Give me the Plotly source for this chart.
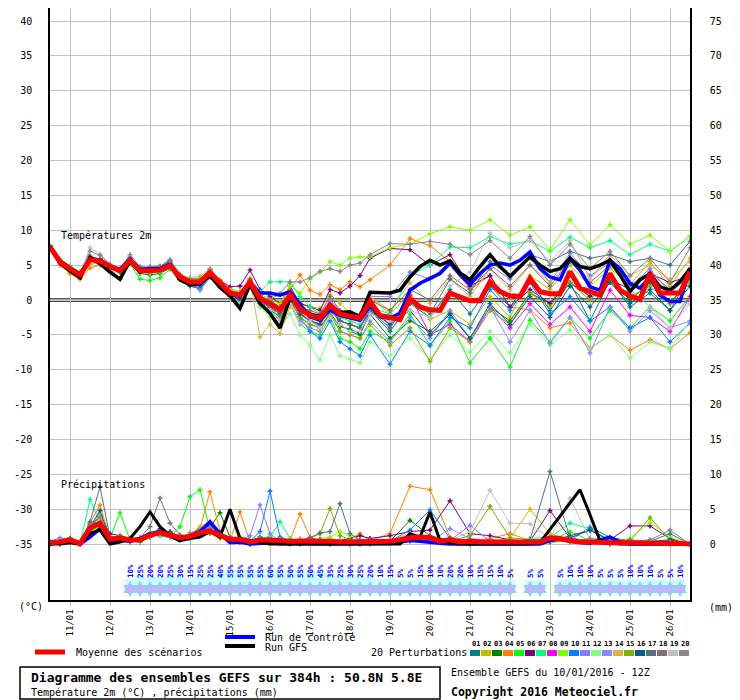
import plotly.graph_objects as go

# time axis (hours after 10/01/2016 12Z)
HOURS = list(range(0, 385, 6))
MEMBER_HOURS = list(range(0, 193, 6)) + list(range(204, 385, 12))

DAY_TICKS = list(range(12, 384, 24))
DAY_LABELS = ["11/01", "12/01", "13/01", "14/01", "15/01", "16/01", "17/01", "18/01",
              "19/01", "20/01", "21/01", "22/01", "23/01", "24/01", "25/01", "26/01"]

TEMP_TICKS = list(range(-35, 41, 5))
PRCP_TICKS = list(range(0, 76, 5))

# ensemble mean, control run, deterministic GFS (6h steps)
MEAN_TEMP = [7.6, 5.5, 4.5, 3.6, 5.8, 5.6, 4.8, 4.2, 5.7, 4.2,
             4.2, 4.3, 4.9, 3.3, 2.6, 2.6, 3.9, 2.4, 1.0, 0.7,
             2.6, 0.2, -0.5, -1.4, 0.7, -1.3, -2.2, -2.6, -0.7, -2.0,
             -2.3, -2.6, -0.2, -2.2, -2.5, -2.8, 0.2, -1.0, -1.4, -1.5,
             1.0, 0.4, -0.1, -0.1, 2.6, 1.2, 0.6, 0.5, 3.1, 1.2,
             0.9, 0.9, 4.1, 1.7, 1.2, 0.7, 3.8, 1.4, 0.6, 0.1,
             3.8, 1.0, 1.0, 1.0, 4.1]
CTRL_TEMP = [7.7, 5.6, 4.6, 3.7, 5.9, 5.7, 4.9, 4.4, 5.9, 4.4,
             4.5, 4.5, 5.1, 3.0, 2.2, 2.3, 3.6, 2.0, 0.9, 0.5,
             2.6, 1.0, 1.0, 0.7, 1.2, -0.7, -2.4, -2.9, -1.4, -2.2,
             -2.6, -2.9, -0.8, -2.4, -2.6, -1.9, 1.4, 2.4, 3.1, 3.8,
             5.3, 3.6, 2.2, 3.8, 5.0, 5.3, 5.0, 5.7, 6.9, 4.5,
             3.3, 2.9, 6.0, 4.3, 1.9, 1.4, 5.7, 4.5, 2.4, 1.7,
             3.3, 0.7, -0.2, -0.2, 4.5]
GFS_TEMP = [7.6, 5.3, 4.2, 3.2, 6.1, 5.2, 4.0, 3.0, 5.6, 4.0,
            4.3, 4.4, 5.0, 2.9, 2.2, 2.4, 3.5, 1.8, 0.6, -1.2,
            2.2, -0.5, -1.9, -4.0, 0.3, -1.2, -2.0, -2.4, -0.9, -1.8,
            -1.7, -2.4, 1.1, 1.0, 1.0, 1.4, 3.3, 4.8, 5.7, 5.0,
            5.6, 3.9, 2.9, 4.8, 6.5, 4.8, 3.4, 4.8, 6.2, 5.0,
            4.1, 4.5, 6.0, 4.8, 4.5, 5.0, 5.7, 3.6, 1.2, 2.9,
            3.8, 1.9, 1.4, 2.6, 4.5]

MEAN_PRCP = [0.2, 0.3, 0.6, 0.1, 2.3, 3.0, 0.7, 0.9, 0.6, 0.6,
             1.3, 1.6, 1.3, 0.9, 1.1, 1.6, 1.9, 1.3, 0.7, 0.7,
             0.3, 0.6, 0.6, 0.5, 0.4, 0.4, 0.5, 0.4, 0.4, 0.3,
             0.3, 0.3, 0.3, 0.3, 0.4, 0.6, 0.9, 1.0, 0.9, 0.4,
             0.6, 0.3, 0.4, 0.3, 0.3, 0.2, 0.2, 0.2, 0.3, 0.3,
             0.9, 0.8, 0.5, 0.3, 0.3, 0.2, 0.2, 0.2, 0.2, 0.2,
             0.2, 0.2, 0.2, 0.1, 0.0]
CTRL_PRCP = [0.0, 0.2, 0.4, 0.0, 1.0, 2.2, 0.3, 0.5, 0.4, 0.8,
             1.5, 1.8, 1.2, 0.5, 1.2, 1.8, 3.2, 1.5, 0.2, 0.3,
             0.0, 0.1, 0.2, 0.1, 0.0, 0.1, 0.0, 0.0, 0.0, 0.0,
             0.0, 0.1, 0.0, 0.0, 0.1, 0.3, 0.5, 0.4, 0.2, 0.1,
             0.0, 0.0, 0.0, 0.0, 0.0, 0.0, 0.0, 0.0, 0.0, 0.0,
             0.5, 0.8, 0.4, 0.2, 0.1, 0.6, 1.0, 0.3, 0.0, 0.0,
             0.0, 0.0, 0.0, 0.0, 0.0]
GFS_PRCP = [0.0, 0.0, 0.2, 0.0, 1.5, 2.0, 0.0, 0.3, 0.8, 2.5,
            4.6, 2.5, 1.2, 0.5, 0.8, 1.0, 1.8, 1.0, 5.0, 0.8,
            0.5, 0.3, 0.0, 0.0, 0.0, 0.0, 0.0, 0.0, 0.0, 0.0,
            0.0, 0.0, 0.0, 0.0, 0.0, 0.0, 1.5, 1.0, 4.6, 0.5,
            0.2, 0.0, 0.0, 0.0, 0.0, 0.0, 0.0, 0.0, 0.0, 0.2,
            2.1, 4.0, 5.9, 7.8, 4.2, 0.5, 0.2, 0.0, 0.0, 0.0,
            0.0, 0.0, 0.0, 0.0, 0.0]

# 20 perturbations (6h steps to 192h, 12h after)
TEMP_01 = [7.5, 5.4, 4.3, 3.2, 5.9, 5.5, 4.6, 4.0, 5.8, 4.1, 4.4, 4.5, 5.0, 3.0, 2.3, 2.2, 3.6, 2.0, 0.5, -0.3, 2.0,
           -0.5, -1.5, -2.4, 0.3, -1.8, -3.0, -3.4, -0.6, -3.5, -4.5, -5.0, -1.5,
           -4.5, -0.5, -2.5, 1.5, -2.0, 2.0, -1.0, 3.0, -1.5, 2.5, -3.0, 2.8, -1.0, 1.0, -1.5, 3.5]
TEMP_02 = [7.6, 5.0, 4.0, 3.5, 5.2, 5.7, 5.0, 4.4, 5.5, 4.5, 4.0, 4.1, 4.8, 3.5, 2.9, 2.9, 4.2, 2.7, 1.6, 1.2, 3.0,
           0.8, 0.2, -0.5, 1.5, -0.4, -1.0, -1.2, 0.8, -0.5, -1.8, -2.0, 0.5,
           -2.0, 1.0, -2.8, -1.5, -3.5, 0.5, -2.5, 3.5, 1.5, 5.0, 2.0, 4.5, 2.2, 5.5, 2.0, 6.0]
TEMP_03 = [7.7, 5.6, 4.6, 3.3, 5.8, 5.4, 4.5, 3.1, 5.2, 3.8, 3.6, 3.8, 4.6, 3.0, 2.0, 1.6, 3.4, 2.2, 1.0, 0.9, 2.8,
           -0.3, -1.0, -2.0, 0.0, -2.5, -3.5, -4.0, -1.8, -3.8, -4.2, -4.8, -2.0,
           -5.5, -3.0, -4.5, -2.0, -5.5, -1.0, -3.0, 1.0, -0.5, 3.5, 0.5, 3.0, 0.0, 2.5, -0.5, 3.0]
TEMP_04 = [7.6, 5.0, 3.8, 3.0, 4.6, 5.0, 4.9, 4.4, 5.9, 4.4, 4.6, 4.7, 5.3, 3.6, 3.0, 3.1, 4.3, 2.9, 1.2, 1.0, 3.1,
           -1.0, -0.5, -1.2, 1.5, 3.6, 1.4, 0.8, 2.2, 1.5, 2.6, 1.9, 2.9,
           5.0, 8.8, 7.8, 5.5, 1.5, 3.5, -1.0, -1.4, -4.0, -3.3, -6.9, -5.0, -7.2, -5.7, -7.0, -4.7]
TEMP_05 = [7.8, 5.8, 4.9, 4.0, 5.9, 5.3, 4.3, 3.0, 5.2, 3.0, 2.8, 3.2, 4.4, 3.4, 3.1, 3.0, 3.7, 2.6, 0.8, 0.2, 2.3,
           -0.5, -1.5, -3.0, -0.5, -3.5, -4.5, -5.0, -2.5, -5.5, -6.0, -7.0, -4.5,
           -6.0, -2.0, -6.5, -3.0, -9.0, -5.5, -9.6, -2.9, -6.0, -2.5, -5.5, -1.5, -4.0, -1.0, -3.0, 0.5]
TEMP_06 = [7.5, 5.5, 4.5, 3.5, 6.1, 5.8, 5.0, 4.3, 5.9, 4.2, 4.0, 4.2, 5.2, 3.4, 2.8, 2.7, 4.3, 2.8, 1.9, 2.0, 4.3,
           1.5, 0.5, -0.5, 2.0, -0.5, -1.0, -1.5, 1.5, 1.0, 2.0, 3.5, 6.0,
           7.4, 7.2, 5.0, 6.5, 2.0, 3.5, -1.0, 1.5, -0.5, 2.5, 0.5, 3.0, 1.5, 3.8, 2.5, 3.5]
TEMP_07 = [7.8, 5.7, 4.8, 4.0, 6.0, 5.9, 5.1, 4.6, 6.0, 4.4, 4.1, 4.3, 4.9, 3.1, 2.4, 2.4, 3.7, 2.3, 1.3, 1.0, 2.4,
           1.2, 2.6, 2.6, 2.6, 0.5, -1.0, -2.0, -0.5, -2.5, -3.0, -3.5, -1.0,
           -2.0, 3.5, 5.0, 7.6, 7.5, 9.1, 8.0, 8.5, 7.0, 9.0, 7.5, 8.5, 6.5, 8.0, 7.0, 9.1]
TEMP_08 = [7.6, 5.5, 4.6, 3.7, 5.6, 5.4, 4.6, 4.1, 5.5, 4.0, 4.1, 4.4, 5.0, 3.2, 2.5, 2.5, 3.8, 2.0, 0.6, 0.4, 2.5,
           0.0, -1.0, -2.0, 0.0, -2.0, -3.0, -3.5, -1.5, -3.0, -3.5, -4.0, -1.0,
           -3.5, 0.7, -5.0, -3.5, -6.0, -1.0, -4.0, -0.5, -3.5, -1.0, -4.5, 1.4, -2.2, -2.5, -4.5, 0.5]
TEMP_09 = [7.9, 5.9, 4.7, 3.9, 6.0, 5.7, 4.9, 4.3, 5.6, 4.3, 4.4, 4.6, 5.0, 3.3, 2.8, 2.9, 4.1, 2.5, 1.4, 1.2, 2.9,
           0.5, 0.0, -0.5, 2.0, 1.0, 3.0, 4.0, 5.5, 5.0, 6.0, 6.2, 6.2,
           7.5, 8.0, 9.5, 10.5, 10.0, 11.5, 9.3, 10.5, 7.2, 11.5, 7.9, 10.8, 8.0, 9.3, 7.0, 9.1]
TEMP_10 = [7.5, 5.4, 4.4, 3.5, 5.7, 5.5, 4.7, 4.2, 5.8, 4.3, 4.5, 4.6, 5.4, 3.0, 2.1, 1.8, 3.5, 2.1, 0.9, 0.6, 2.3,
           0.0, -1.0, -2.0, 0.0, -2.5, -4.5, -5.5, -3.0, -6.0, -7.0, -8.0, -5.0,
           -9.2, -4.5, -6.5, -2.5, -4.0, 1.5, -1.5, 2.5, -2.0, 0.5, -3.0, -1.0, -4.0, -2.5, -6.0, -3.3]
TEMP_11 = [7.6, 5.5, 4.5, 3.8, 5.8, 5.6, 4.8, 4.5, 5.8, 4.6, 4.7, 4.9, 5.5, 3.4, 2.4, 1.4, 3.2, 2.6, 1.2, 0.8, 2.7,
           0.5, -0.5, -1.5, 1.0, -1.0, -2.0, -2.5, 0.0, -1.5, -2.0, -2.0, 0.5,
           0.5, 4.0, 3.0, 5.5, 2.5, 5.0, 3.0, 6.0, 2.5, 6.7, 3.5, 5.3, 2.0, 4.5, 1.0, 3.5]
TEMP_12 = [7.7, 5.6, 4.6, 3.7, 5.9, 5.5, 4.6, 3.9, 5.5, 3.9, 3.8, 4.0, 4.7, 3.5, 2.7, 2.8, 4.0, 2.4, 1.1, 0.5, 2.2,
           -1.0, -2.5, -4.0, -2.0, -5.0, -6.5, -8.6, -5.0, -8.0, -8.5, -9.0, -6.0,
           -8.0, -5.5, -8.5, -5.0, -7.5, -4.5, -7.6, -3.5, -6.5, -4.3, -7.0, -5.0, -8.3, -6.0, -7.0, -3.0]
TEMP_13 = [7.6, 5.5, 4.4, 3.6, 5.7, 5.7, 4.9, 4.3, 5.7, 4.2, 4.3, 4.4, 5.0, 3.2, 2.6, 2.5, 3.9, 2.3, 0.8, 0.6, 2.6,
           -0.5, -1.5, -3.0, -0.5, -3.0, -4.0, -4.5, -2.0, -4.5, -5.0, -5.5, -3.0,
           -6.0, -2.5, -5.5, -1.5, -5.5, -1.0, -6.0, -1.5, -6.2, -2.5, -7.6, -1.0, -4.5, -1.5, -4.0, -3.0]
TEMP_14 = [7.5, 5.2, 4.2, 3.4, 5.0, 5.6, 4.9, 4.4, 5.6, 4.3, 4.2, 4.3, 4.8, 3.6, 3.2, 3.4, 4.5, 2.9, 1.3, 1.1, 2.9,
           -5.3, -3.5, -4.8, -1.0, -2.0, -3.0, -3.8, -1.0, -3.0, -3.5, -2.5, 0.5,
           -1.5, 2.5, -0.5, 3.0, 0.5, 4.5, 1.5, 5.0, 2.5, 5.5, 3.0, 6.5, 3.5, 5.0, 3.0, 5.5]
TEMP_15 = [7.6, 5.6, 4.6, 3.6, 5.8, 5.4, 4.7, 4.0, 5.4, 4.0, 3.9, 4.1, 4.7, 3.1, 2.5, 2.6, 3.9, 2.2, 0.9, 0.7, 2.7,
           0.0, -1.0, -2.5, 0.0, -2.5, -3.5, -4.0, -2.0, -4.5, -5.0, -5.5, -3.5,
           -6.5, -4.0, -8.8, -4.0, -6.0, -1.5, -3.5, 1.0, -1.0, 2.5, 0.0, 3.0, 0.5, 2.0, -0.5, 2.5]
TEMP_16 = [7.7, 5.4, 4.4, 3.4, 6.2, 5.9, 5.0, 4.4, 6.0, 4.4, 4.6, 4.8, 5.6, 3.2, 2.3, 2.1, 3.6, 2.1, 0.7, 0.1, 2.5,
           0.5, -0.5, -1.5, 0.5, -2.0, -3.0, -3.5, -1.0, -3.0, -3.5, -4.0, -1.5,
           -3.5, -1.5, -5.0, -2.0, -5.5, -0.5, -3.5, 0.5, -2.5, 2.0, -1.0, 2.5, -0.5, 1.5, -1.5, 2.0]
TEMP_17 = [7.6, 5.6, 4.6, 3.7, 6.3, 5.8, 4.9, 4.2, 6.1, 4.5, 4.7, 4.8, 5.7, 3.6, 2.8, 2.7, 4.2, 2.6, 1.0, 0.8, 2.8,
           0.0, -1.0, -2.0, 0.5, -1.5, -2.5, -3.0, -1.0, -3.0, -3.5, -4.0, -1.5,
           -4.0, 0.0, -2.0, 3.0, 1.0, 5.5, 3.5, 6.5, 5.5, 7.0, 6.0, 6.5, 5.5, 6.0, 5.0, 8.4]
TEMP_18 = [7.5, 5.3, 4.3, 3.5, 5.9, 5.6, 4.7, 4.0, 5.8, 4.1, 4.2, 4.3, 5.0, 3.3, 2.6, 2.7, 4.0, 2.4, 1.1, 0.9, 2.6,
           0.5, 0.0, -1.0, 1.0, -1.0, -1.5, -2.0, 0.5, -1.5, -2.0, -2.5, 0.0,
           -1.5, 1.5, 0.0, 3.5, 1.5, 4.5, 2.0, 5.0, 2.0, 5.5, 2.5, 5.0, 2.0, 4.0, 1.5, 4.5]
TEMP_19 = [7.8, 5.8, 4.8, 3.8, 7.5, 6.6, 5.2, 4.6, 6.2, 4.5, 4.4, 4.5, 5.1, 3.5, 2.9, 2.7, 4.3, 2.5, 0.6, -0.5, 2.0,
           -0.5, -1.5, -3.0, -0.5, -3.5, -3.0, -4.0, -2.5, -3.5, -4.5, -4.5, -2.0,
           -3.0, -1.5, -2.5, 2.0, 4.0, 9.6, 7.5, 8.5, 5.5, 8.5, 3.0, 6.0, 1.5, -1.0, -4.0, -0.5]
TEMP_20 = [7.7, 5.5, 4.5, 3.6, 7.0, 6.4, 5.1, 4.4, 6.5, 4.8, 4.7, 4.8, 5.8, 3.7, 3.0, 3.0, 4.4, 2.7, 1.3, 1.0, 2.9,
           0.5, 0.0, 1.0, 2.6, 2.6, 3.2, 4.1, 4.5, 4.1, 5.0, 5.3, 6.5,
           8.1, 8.0, 8.4, 8.0, 6.5, 8.5, 6.0, 9.1, 5.0, 8.0, 4.5, 7.0, 3.5, 6.0, 2.5, 7.5]

PRCP_01 = [0.3, 0.5, 0.4, 0.0, 2.0, 3.5, 0.5, 0.6, 0.3, 0.8, 1.5, 1.2, 1.0, 0.6, 1.3, 1.8, 2.2, 1.0, 0.4, 0.2,
           0.0, 0.3, 0.5, 0.2, 0.0, 0.4, 0.6, 0.3, 0.0, 0.2, 0.0, 0.1, 0.0,
           0.3, 0.8, 0.5, 0.2, 0.0, 0.3, 0.1, 0.5, 0.9, 0.4, 0.2, 0.0, 0.3, 0.1, 0.0, 0.0]
PRCP_02 = [0.0, 0.2, 0.8, 0.0, 1.5, 2.5, 1.0, 0.5, 0.8, 0.4, 1.0, 2.0, 1.6, 0.8, 0.9, 1.2, 1.5, 0.8, 0.6, 1.0,
           0.2, 0.5, 0.0, 0.3, 0.6, 0.2, 0.0, 0.5, 0.8, 0.3, 0.0, 0.2, 0.0,
           0.2, 0.5, 0.4, 0.3, 0.6, 0.4, 0.8, 5.0, 1.5, 0.6, 0.3, 0.2, 0.5, 0.4, 0.2, 0.0]
PRCP_03 = [0.2, 0.0, 0.5, 0.2, 2.8, 3.2, 0.4, 1.2, 0.5, 0.3, 1.1, 1.8, 1.4, 1.2, 0.8, 2.0, 2.4, 4.5, 1.0, 0.6,
           0.0, 0.2, 0.9, 0.4, 0.2, 0.0, 0.3, 0.6, 0.2, 0.5, 0.3, 0.0, 0.2,
           0.4, 3.4, 1.2, 0.5, 0.3, 0.6, 0.4, 0.2, 0.8, 0.5, 0.3, 0.4, 0.2, 0.3, 0.1, 0.0]
PRCP_04 = [0.0, 0.3, 0.6, 0.0, 3.0, 5.6, 0.8, 1.0, 0.4, 0.6, 1.4, 1.5, 1.2, 0.7, 1.6, 2.2, 7.5, 1.8, 0.5, 4.6,
           0.3, 0.8, 0.4, 0.0, 0.5, 4.3, 1.0, 0.3, 0.0, 0.5, 0.8, 1.5, 0.5,
           1.5, 8.3, 7.8, 1.0, 0.5, 0.8, 1.5, 0.5, 0.3, 0.6, 0.2, 0.4, 0.3, 0.2, 0.4, 0.0]
PRCP_05 = [0.1, 0.2, 0.9, 0.0, 1.8, 2.6, 0.9, 4.5, 0.6, 0.3, 1.6, 1.2, 1.0, 2.5, 6.8, 7.8, 2.0, 1.5, 0.6, 0.4,
           0.2, 0.5, 0.3, 0.6, 0.2, 0.3, 0.4, 0.2, 0.0, 0.4, 0.2, 0.3, 0.1,
           0.2, 0.6, 0.4, 0.3, 0.5, 0.3, 0.2, 0.6, 0.4, 1.8, 0.5, 0.3, 0.2, 0.4, 0.3, 0.0]
PRCP_06 = [0.4, 0.3, 0.7, 0.2, 2.5, 4.0, 1.5, 1.2, 0.7, 0.5, 1.0, 1.4, 1.8, 1.0, 1.2, 1.5, 1.6, 1.1, 0.8, 0.6,
           0.4, 1.0, 0.8, 0.3, 0.2, 0.5, 0.3, 0.2, 0.4, 0.6, 0.8, 1.2, 0.8,
           1.2, 1.8, 2.0, 6.2, 1.5, 1.2, 0.6, 0.4, 4.8, 0.9, 2.0, 0.6, 2.6, 2.6, 0.8, 0.0]
PRCP_07 = [0.2, 0.4, 0.5, 0.0, 6.4, 3.0, 0.6, 0.8, 0.9, 0.7, 1.2, 1.7, 1.3, 0.8, 1.0, 1.4, 2.0, 1.2, 0.9, 0.5,
           0.6, 0.9, 1.1, 3.2, 0.8, 0.4, 0.3, 0.5, 0.3, 0.2, 0.1, 0.4, 0.2,
           0.3, 0.6, 0.9, 0.5, 0.3, 0.4, 0.2, 0.8, 1.0, 3.0, 2.2, 0.5, 0.3, 0.6, 0.4, 0.0]
PRCP_08 = [0.0, 0.2, 0.4, 0.1, 2.2, 2.8, 0.5, 0.7, 0.4, 0.9, 1.3, 1.5, 1.1, 0.8, 1.0, 1.7, 2.1, 1.4, 0.6, 0.8,
           0.3, 0.2, 0.5, 0.8, 0.4, 0.3, 0.9, 0.6, 0.3, 0.2, 0.5, 0.3, 0.2,
           0.2, 0.4, 0.6, 0.3, 0.5, 0.2, 0.4, 0.3, 0.6, 0.8, 0.5, 0.3, 0.2, 0.4, 0.3, 0.0]
PRCP_09 = [0.1, 0.3, 0.6, 0.0, 2.0, 3.3, 0.8, 1.3, 0.5, 0.4, 1.2, 1.6, 1.5, 1.1, 1.3, 1.6, 1.8, 1.5, 0.7, 0.9,
           0.2, 0.4, 0.3, 0.6, 0.5, 0.2, 0.4, 0.8, 1.0, 1.8, 1.2, 0.6, 0.3,
           0.1, 0.4, 0.3, 0.6, 0.2, 0.5, 0.3, 0.4, 0.2, 0.5, 0.6, 0.4, 0.8, 3.1, 1.0, 0.0]
PRCP_10 = [0.2, 0.1, 0.5, 0.0, 2.6, 3.8, 0.6, 0.9, 0.6, 0.5, 1.5, 1.9, 1.4, 1.0, 1.2, 2.3, 2.6, 1.6, 0.6, 0.5,
           0.4, 1.8, 7.6, 1.0, 0.5, 0.3, 0.2, 0.6, 0.4, 0.3, 0.2, 0.5, 0.3,
           0.4, 2.0, 4.9, 0.8, 0.3, 0.5, 0.4, 0.6, 0.3, 0.5, 2.4, 1.0, 0.4, 0.3, 0.2, 0.0]
PRCP_11 = [0.4, 0.9, 0.6, 0.0, 2.1, 2.9, 0.7, 1.1, 0.8, 0.6, 1.4, 1.3, 1.2, 0.9, 1.0, 1.5, 1.8, 1.2, 0.8, 0.6,
           1.2, 5.6, 1.5, 0.4, 0.3, 0.6, 0.4, 0.2, 0.3, 0.5, 0.3, 0.2, 0.4,
           0.6, 1.2, 0.8, 0.5, 2.7, 0.4, 0.6, 0.3, 0.5, 0.4, 0.3, 0.6, 0.4, 0.2, 0.3, 0.0]
PRCP_12 = [0.2, 0.3, 0.5, 0.1, 2.4, 3.6, 0.9, 1.0, 0.7, 0.5, 1.1, 1.4, 1.2, 0.7, 0.9, 1.3, 1.7, 1.1, 0.6, 0.4,
           0.3, 0.5, 0.7, 0.4, 0.6, 0.3, 0.2, 0.4, 0.3, 0.6, 0.4, 0.2, 0.3,
           0.3, 0.5, 0.6, 0.4, 0.3, 0.6, 0.2, 0.3, 0.5, 0.4, 0.8, 0.5, 0.3, 0.2, 0.4, 0.0]
PRCP_13 = [0.3, 0.6, 0.4, 0.0, 1.9, 3.1, 0.6, 0.8, 0.5, 0.7, 1.2, 1.6, 1.3, 0.8, 1.1, 1.9, 2.3, 1.3, 0.5, 0.7,
           0.2, 0.4, 0.6, 0.3, 0.4, 0.5, 0.3, 0.2, 0.4, 0.3, 0.2, 0.3, 0.2,
           0.2, 0.6, 0.3, 2.2, 0.8, 0.5, 0.3, 0.4, 0.6, 0.3, 0.2, 0.4, 0.3, 0.5, 0.2, 0.0]
PRCP_14 = [0.1, 0.2, 0.6, 0.0, 2.7, 4.3, 0.9, 0.7, 0.6, 0.8, 1.5, 1.3, 1.0, 0.9, 1.4, 2.5, 3.2, 1.4, 0.7, 0.5,
           0.4, 0.3, 0.5, 0.6, 0.3, 0.8, 0.5, 0.3, 0.6, 0.4, 0.3, 0.2, 0.4,
           0.5, 1.5, 0.9, 0.4, 0.6, 0.3, 0.5, 0.4, 0.2, 0.6, 0.4, 0.3, 0.5, 0.2, 0.3, 0.0]
PRCP_15 = [0.2, 0.3, 0.5, 0.0, 2.2, 3.4, 0.8, 0.9, 0.5, 0.6, 1.3, 1.5, 1.4, 1.0, 1.2, 1.8, 2.0, 1.3, 0.6, 0.6,
           0.3, 0.4, 0.3, 0.5, 0.6, 0.4, 0.8, 1.5, 5.1, 1.2, 0.6, 0.3, 0.2,
           0.3, 0.8, 0.5, 0.4, 1.2, 5.4, 0.9, 0.6, 0.4, 0.3, 0.5, 0.8, 0.4, 3.8, 0.6, 0.0]
PRCP_16 = [0.3, 0.2, 0.7, 0.0, 2.4, 4.8, 0.7, 1.0, 0.6, 0.5, 1.4, 2.2, 1.6, 1.0, 1.1, 1.6, 1.9, 1.2, 0.8, 0.4,
           0.3, 0.6, 0.4, 0.3, 0.2, 0.5, 0.3, 0.6, 0.4, 0.3, 0.2, 0.4, 0.3,
           0.4, 1.0, 0.6, 0.3, 0.2, 0.5, 0.3, 0.6, 0.4, 1.2, 2.0, 0.5, 0.3, 0.4, 0.6, 0.0]
PRCP_17 = [0.2, 0.4, 0.8, 0.1, 3.2, 8.2, 1.0, 1.1, 0.7, 0.6, 1.2, 1.6, 1.3, 0.9, 1.3, 1.7, 2.1, 1.4, 0.7, 0.5,
           0.2, 0.4, 0.6, 0.4, 0.3, 0.6, 0.9, 1.6, 1.8, 5.8, 1.5, 0.6, 0.4,
           0.3, 0.6, 0.4, 0.8, 0.5, 0.3, 0.4, 0.6, 10.4, 0.8, 0.5, 0.3, 0.6, 0.4, 1.5, 0.0]
PRCP_18 = [0.1, 0.3, 0.5, 0.0, 2.0, 3.1, 0.5, 0.7, 0.8, 0.9, 2.5, 6.6, 3.0, 1.3, 1.1, 1.4, 1.7, 1.0, 0.6, 0.4,
           0.3, 0.4, 0.5, 0.3, 0.2, 0.4, 0.3, 0.5, 0.4, 0.2, 0.3, 0.4, 0.2,
           0.2, 0.5, 0.3, 0.4, 0.6, 0.3, 0.5, 0.2, 0.4, 0.6, 0.3, 0.5, 0.2, 0.4, 0.3, 0.0]
PRCP_19 = [0.2, 0.3, 0.5, 0.0, 2.3, 3.3, 0.6, 0.9, 0.6, 0.5, 1.2, 1.4, 1.2, 0.8, 1.0, 1.5, 1.8, 1.2, 0.5, 0.6,
           0.4, 0.3, 0.5, 0.6, 0.3, 0.5, 0.4, 0.3, 0.6, 0.5, 0.4, 0.3, 0.5,
           0.4, 0.8, 0.6, 0.5, 1.8, 7.7, 3.0, 2.9, 0.8, 6.6, 0.6, 0.4, 0.3, 0.5, 0.2, 0.0]
PRCP_20 = [0.3, 0.4, 0.6, 0.0, 2.6, 3.9, 0.8, 1.0, 0.7, 0.6, 1.3, 1.7, 1.4, 1.0, 1.2, 1.8, 2.2, 1.5, 0.7, 0.6,
           0.3, 0.5, 0.6, 0.4, 0.3, 0.4, 0.5, 0.6, 0.4, 0.3, 0.5, 0.6, 0.4,
           0.3, 0.6, 0.4, 0.5, 0.3, 0.6, 0.4, 0.5, 0.6, 0.4, 0.8, 0.5, 0.4, 0.6, 2.0, 0.0]

MEMBER_TEMPS = [TEMP_01, TEMP_02, TEMP_03, TEMP_04, TEMP_05, TEMP_06, TEMP_07, TEMP_08, TEMP_09, TEMP_10,
                TEMP_11, TEMP_12, TEMP_13, TEMP_14, TEMP_15, TEMP_16, TEMP_17, TEMP_18, TEMP_19, TEMP_20]
MEMBER_PRCPS = [PRCP_01, PRCP_02, PRCP_03, PRCP_04, PRCP_05, PRCP_06, PRCP_07, PRCP_08, PRCP_09, PRCP_10,
                PRCP_11, PRCP_12, PRCP_13, PRCP_14, PRCP_15, PRCP_16, PRCP_17, PRCP_18, PRCP_19, PRCP_20]
MEMBER_COLORS = ["#008080", "#c0c000", "#008000", "#ff8000", "#00ff00", "#800080", "#00ff80", "#ff00ff",
                 "#80ff00", "#0080ff", "#8080ff", "#80ff80", "#8888ff", "#e0b040", "#80b000", "#006080",
                 "#507080", "#807070", "#c0c0c0", "#888888"]

# snow probability (%) per 6h slot, None = no snow
SNOW_HOURS = list(range(48, 384, 6))
SNOW_PCT = [10, 25, 20, 20, 25, 30, 15, 25, 25, 40, 55, 55, 55, 55, 60, 55, 50, 55, 50, 45,
            35, 25, 30, 25, 20, 10, 15, 5, 5, 15, 10, 10, 20, 20, 10, 15, 15, 10, 5, None,
            5, 5, None, 5, 10, 10, 10, 5, 5, 5, 10, 10, 10, 5, 5, 10]

for s in MEMBER_TEMPS + MEMBER_PRCPS:
    assert len(s) == len(MEMBER_HOURS), len(s)
for s in [MEAN_TEMP, CTRL_TEMP, GFS_TEMP, MEAN_PRCP, CTRL_PRCP, GFS_PRCP]:
    assert len(s) == len(HOURS), len(s)
assert len(SNOW_PCT) == len(SNOW_HOURS)

MONO = "DejaVu Sans Mono"
GRID = "#c0c0c0"
# the page body has an 8px margin: figure is 732x692, plot area lands on 50..690 x 8..600
Y_RANGE = [-43.02, 41.88]


def px(x, y):
    # pixel position in the 740x700 page -> paper coords
    return (x - 50) / 640, (600 - y) / 592


fig = go.Figure()

# perturbations
for temp, color in zip(MEMBER_TEMPS, MEMBER_COLORS):
    fig.add_trace(go.Scatter(x=MEMBER_HOURS, y=temp, mode="lines+markers",
                             line=dict(color=color, width=1),
                             marker=dict(symbol="cross", size=4, color=color)))
for prcp, color in zip(MEMBER_PRCPS, MEMBER_COLORS):
    fig.add_trace(go.Scatter(x=MEMBER_HOURS, y=prcp, yaxis="y2", mode="lines+markers",
                             line=dict(color=color, width=1),
                             marker=dict(symbol="cross", size=4, color=color)))

# control, GFS, mean
for y, ax, color, w in [(CTRL_TEMP, "y", "#0000ff", 3.5), (GFS_TEMP, "y", "#000000", 3.5),
                        (MEAN_TEMP, "y", "#ff0000", 5),
                        (CTRL_PRCP, "y2", "#0000ff", 3.5), (GFS_PRCP, "y2", "#000000", 3),
                        (MEAN_PRCP, "y2", "#ff0000", 5)]:
    fig.add_trace(go.Scatter(x=HOURS, y=y, yaxis=ax, mode="lines",
                             line=dict(color=color, width=w)))

# snow band: pale bars sized by probability, snowflake marks below
snow_x = [h for h, p in zip(SNOW_HOURS, SNOW_PCT) if p is not None]
snow_p = [p for p in SNOW_PCT if p is not None]
fig.add_trace(go.Bar(x=snow_x, y=[p + 45 for p in snow_p], base=-45, width=6, yaxis="y3",
                     marker=dict(color="#ccffff", line=dict(width=0))))
fig.add_trace(go.Scatter(x=snow_x, y=[-40] * len(snow_x), yaxis="y3", mode="markers",
                         marker=dict(symbol="hexagram", size=12, color="#80d4f4",
                                     line=dict(width=0))))
fig.add_trace(go.Scatter(x=snow_x, y=[-40] * len(snow_x), yaxis="y3", mode="markers",
                         marker=dict(symbol="asterisk-open", size=8,
                                     line=dict(width=1, color="#3d9fe0"))))

annotations = []
for h, p in zip(snow_x, snow_p):
    annotations.append(dict(x=h, y=5, xref="x", yref="y3", text=f"{p}%", showarrow=False,
                            textangle=-90, xanchor="center", yanchor="bottom",
                            font=dict(family=MONO, size=7.5, color="#0000ff", weight="bold")))

annotations += [
    dict(x=5.5, y=9.2, xref="x", yref="y", text="Températures 2m", xanchor="left",
         yanchor="middle", showarrow=False),
    dict(x=5.5, y=-26.4, xref="x", yref="y", text="Précipitations", xanchor="left",
         yanchor="middle", showarrow=False),
]


def label(x, y, text, size=10, bold=False, anchor="left"):
    xp, yp = px(x, y)
    annotations.append(dict(x=xp, y=yp, xref="paper", yref="paper", text=text, showarrow=False,
                            xanchor=anchor, yanchor="middle",
                            font=dict(family=MONO, size=size, color="black",
                                      weight="bold" if bold else "normal")))


label(31, 606, "(°C)", anchor="center")
label(721, 607, "(mm)", anchor="center")
label(74, 652, "Moyenne des scénarios")
label(263, 637, "Run de contrôle")
label(263, 647, "Run GFS")
label(369, 652, "20 Perturbations")
label(29, 677, "Diagramme des ensembles GEFS sur 384h : 50.8N 5.8E", size=13, bold=True)
label(29, 692, "Température 2m (°C) , précipitations (mm)")
label(449, 672, "Ensemble GEFS du 10/01/2016 - 12Z")
label(449, 692, "Copyright 2016 Meteociel.fr", size=11.5, bold=True)
for i in range(20):
    label(475.5 + 11 * i, 644, f"{i + 1:02d}", size=7, bold=True, anchor="center")

shapes = []
for y0 in (0.17, -0.17):
    shapes.append(dict(type="line", xref="paper", yref="y", x0=0, x1=1, y0=y0, y1=y0,
                       line=dict(color="black", width=1), layer="between"))


def hline(x0, x1, y, color, width):
    a, b = px(x0, y)
    c, _ = px(x1, y)
    shapes.append(dict(type="line", xref="paper", yref="paper", x0=a, x1=c, y0=b, y1=b,
                       line=dict(color=color, width=width)))


hline(35, 65, 652, "#ff0000", 5)
hline(225, 255, 637, "#0000ff", 4)
hline(225, 255, 646, "#000000", 4)
for i, color in enumerate(MEMBER_COLORS):
    a, b = px(470 + 11 * i, 650)
    c, d = px(480 + 11 * i, 656)
    shapes.append(dict(type="rect", xref="paper", yref="paper", x0=a, x1=c, y0=b, y1=d,
                       fillcolor=color, line=dict(width=0)))
a, b = px(20, 667)
c, d = px(440, 699)
shapes.append(dict(type="rect", xref="paper", yref="paper", x0=a, x1=c, y0=b, y1=d,
                   line=dict(color="black", width=1.5)))

fig.update_layout(
    width=732, height=692,
    margin=dict(l=42, r=50, t=0, b=100),
    paper_bgcolor="white", plot_bgcolor="white",
    showlegend=False, hovermode=False,
    font=dict(family=MONO, size=10, color="black"),
    annotations=annotations, shapes=shapes,
    xaxis=dict(range=[0, 384], tickvals=DAY_TICKS, ticktext=DAY_LABELS, tickangle=-90,
               showgrid=True, gridcolor=GRID, gridwidth=1, zeroline=False,
               showline=True, linecolor="black", linewidth=1.5,
               ticks="outside", ticklen=4, tickcolor=GRID, tickfont=dict(family=MONO, size=9)),
    yaxis=dict(range=Y_RANGE, tickvals=TEMP_TICKS, ticktext=[str(v) for v in TEMP_TICKS],
               showgrid=True, gridcolor=GRID, gridwidth=1, zeroline=False,
               showline=True, linecolor="black", linewidth=1.5, ticks="",
               ticklabelstandoff=14, tickfont=dict(family=MONO, size=10)),
    yaxis2=dict(range=[Y_RANGE[0] + 35, Y_RANGE[1] + 35], overlaying="y", side="right",
                tickvals=PRCP_TICKS, showgrid=False, zeroline=False, showline=True,
                linecolor="black", linewidth=1.5, ticks="", ticklabelstandoff=16,
                tickfont=dict(family=MONO, size=10)),
    yaxis3=dict(range=[-95, 2865], overlaying="y", visible=False),
)

fig.write_html("out.html")
